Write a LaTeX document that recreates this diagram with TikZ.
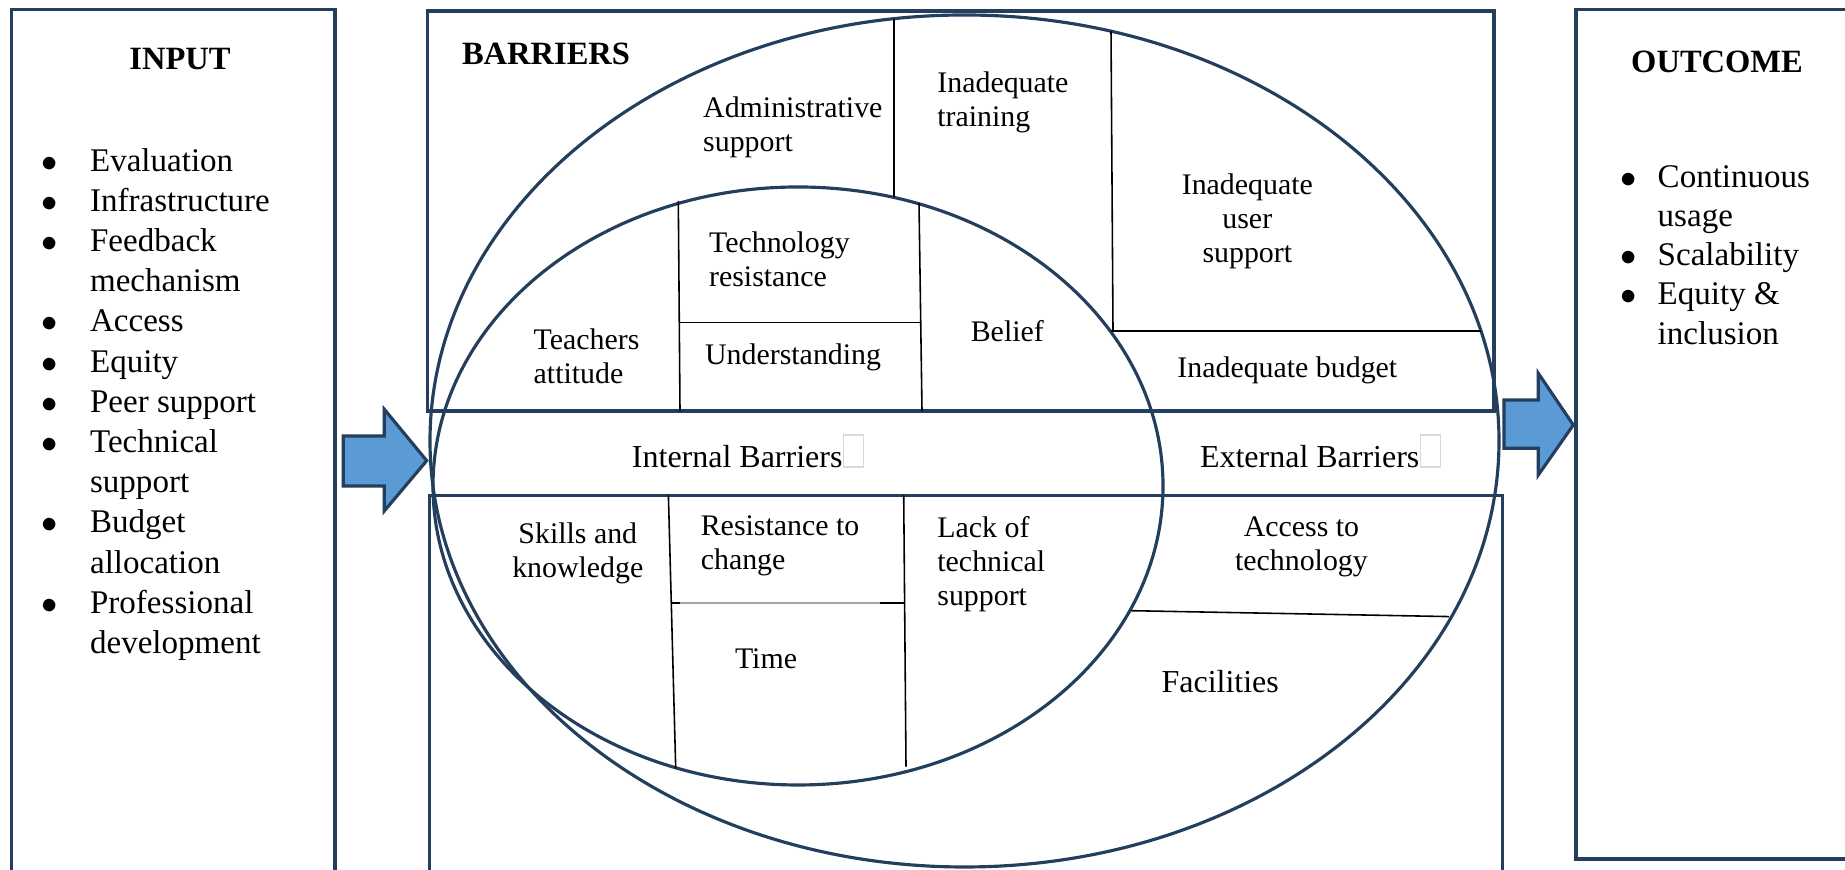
\documentclass[tikz,border=0pt]{standalone}
\usepackage{fontspec}
\setmainfont{Liberation Serif}
\definecolor{navy}{RGB}{36,62,94}
\definecolor{arrowblue}{RGB}{91,155,213}

\begin{document}
\begin{tikzpicture}
  [boxN/.style={draw=navy,line width=0.9pt},
   partL/.style={draw=black,line width=0.45pt},
   arrowN/.style={draw=navy,fill=arrowblue,line width=0.9pt,line join=miter},
   titleN/.style={font=\fontsize{9.25}{11}\selectfont\bfseries,inner sep=0pt},
   listN/.style={font=\fontsize{9.4}{11}\selectfont,inner sep=0pt,anchor=base west},
   smallN/.style={font=\fontsize{8.5}{9.66}\selectfont,inner sep=0pt},
   bandN/.style={font=\fontsize{9.1}{11}\selectfont,inner sep=0pt},
   markN/.style={draw=gray!30,line width=0.3pt,minimum width=0.2cm,
     minimum height=0.32cm,inner sep=0pt,anchor=south west}]

  \useasboundingbox (0,0) rectangle (18.45,8.70);

  \draw[boxN] (0.117,-0.1) rectangle (3.35,8.606);
  \draw[boxN] (15.76,0.11) rectangle (18.6,8.606);
  \draw[boxN] (4.277,4.59) rectangle (14.94,8.59);
  \draw[boxN] (4.293,-0.1) rectangle (15.023,3.745);

  \draw[boxN] (9.645,4.29) ellipse [x radius=5.345, y radius=4.26];
  \draw[boxN] (7.98,3.84) ellipse [x radius=3.65, y radius=2.99];

  \draw[arrowN] (3.433,4.34) -- (3.843,4.34) -- (3.843,4.607) -- (4.267,4.093)
    -- (3.843,3.59) -- (3.843,3.84) -- (3.433,3.84) -- cycle;
  \draw[arrowN] (15.04,4.70) -- (15.383,4.70) -- (15.383,4.967) -- (15.733,4.45)
    -- (15.383,3.95) -- (15.383,4.217) -- (15.04,4.217) -- cycle;

  \draw[partL] (8.94,8.51) -- (8.94,6.725);
  \draw[partL] (11.11,8.387) -- (11.13,5.39);
  \draw[partL] (11.11,5.39) -- (14.81,5.39);
  \draw[partL] (6.783,6.69) -- (6.80,4.59);
  \draw[partL] (9.19,6.667) -- (9.22,4.59);
  \draw[partL] (6.79,5.476) -- (9.21,5.476);
  \draw[partL] (6.684,3.745) -- (6.757,1.017);
  \draw[partL] (9.037,3.745) -- (9.06,1.033);
  \draw[partL,gray!70] (6.71,2.667) -- (9.05,2.667);
  \draw[partL] (6.71,2.667) -- (6.80,2.667) (8.80,2.667) -- (9.05,2.667);
  \draw[partL] (11.31,2.593) -- (14.49,2.534);

  \node[titleN] (input) at (1.80,8.11) {INPUT};
  \node[titleN] (outcome) at (17.17,8.076) {OUTCOME};
  \node[titleN] (barriers) at (5.46,8.159) {BARRIERS};

  \foreach \t [count=\i from 0] in {Evaluation,Infrastructure,Feedback,mechanism,
      Access,Equity,Peer support,Technical,support,Budget,allocation,
      Professional,development}
    \node[listN] (in\i) at (0.894,6.988-0.402*\i) {\t};
  \foreach \i in {0,1,2,4,5,6,7,9,11}
    \node[listN,anchor=base] (inb\i) at (0.494,6.988-0.402*\i) {$\bullet$};

  \foreach \t [count=\i from 0] in {Continuous,usage,Scalability,Equity \&,inclusion}
    \node[listN] (out\i) at (16.57,6.823-0.391*\i) {\t};
  \foreach \i in {0,2,3}
    \node[listN,anchor=base] (outb\i) at (16.29,6.823-0.391*\i) {$\bullet$};

  \node[smallN,align=left,anchor=west] (admin) at (7.025,7.423) {Administrative\\support};
  \node[smallN,align=left,anchor=west] (train) at (9.367,7.676) {Inadequate\\training};
  \node[smallN,align=center] (usersup) at (12.473,6.488) {Inadequate\\user\\support};
  \node[smallN] (budget) at (12.873,4.993) {Inadequate budget};
  \node[smallN,align=left,anchor=west] (techres) at (7.084,6.105) {Technology\\resistance};
  \node[smallN] (underst) at (7.931,5.123) {Understanding};
  \node[smallN,align=left,anchor=west] (teach) at (5.33,5.135) {Teachers\\attitude};
  \node[smallN] (belief) at (10.073,5.393) {Belief};

  \node[bandN] (intB) at (7.372,4.134) {Internal Barriers};
  \node[bandN] (extB) at (13.097,4.134) {External Barriers};
  \node[markN] (intM) at (intB.base east) {};
  \node[markN] (extM) at (extB.base east) {};

  \node[smallN,align=center] (skills) at (5.778,3.17) {Skills and\\knowledge};
  \node[smallN,align=left,anchor=west] (resist) at (7.001,3.246) {Resistance to\\change};
  \node[smallN] (time) at (7.66,2.11) {Time};
  \node[smallN,align=left,anchor=west] (lack) at (9.367,3.056) {Lack of\\technical\\support};
  \node[smallN,align=center] (access) at (13.014,3.228) {Access to\\technology};
  \node[bandN] (facil) at (12.202,1.887) {Facilities};
\end{tikzpicture}
\end{document}
